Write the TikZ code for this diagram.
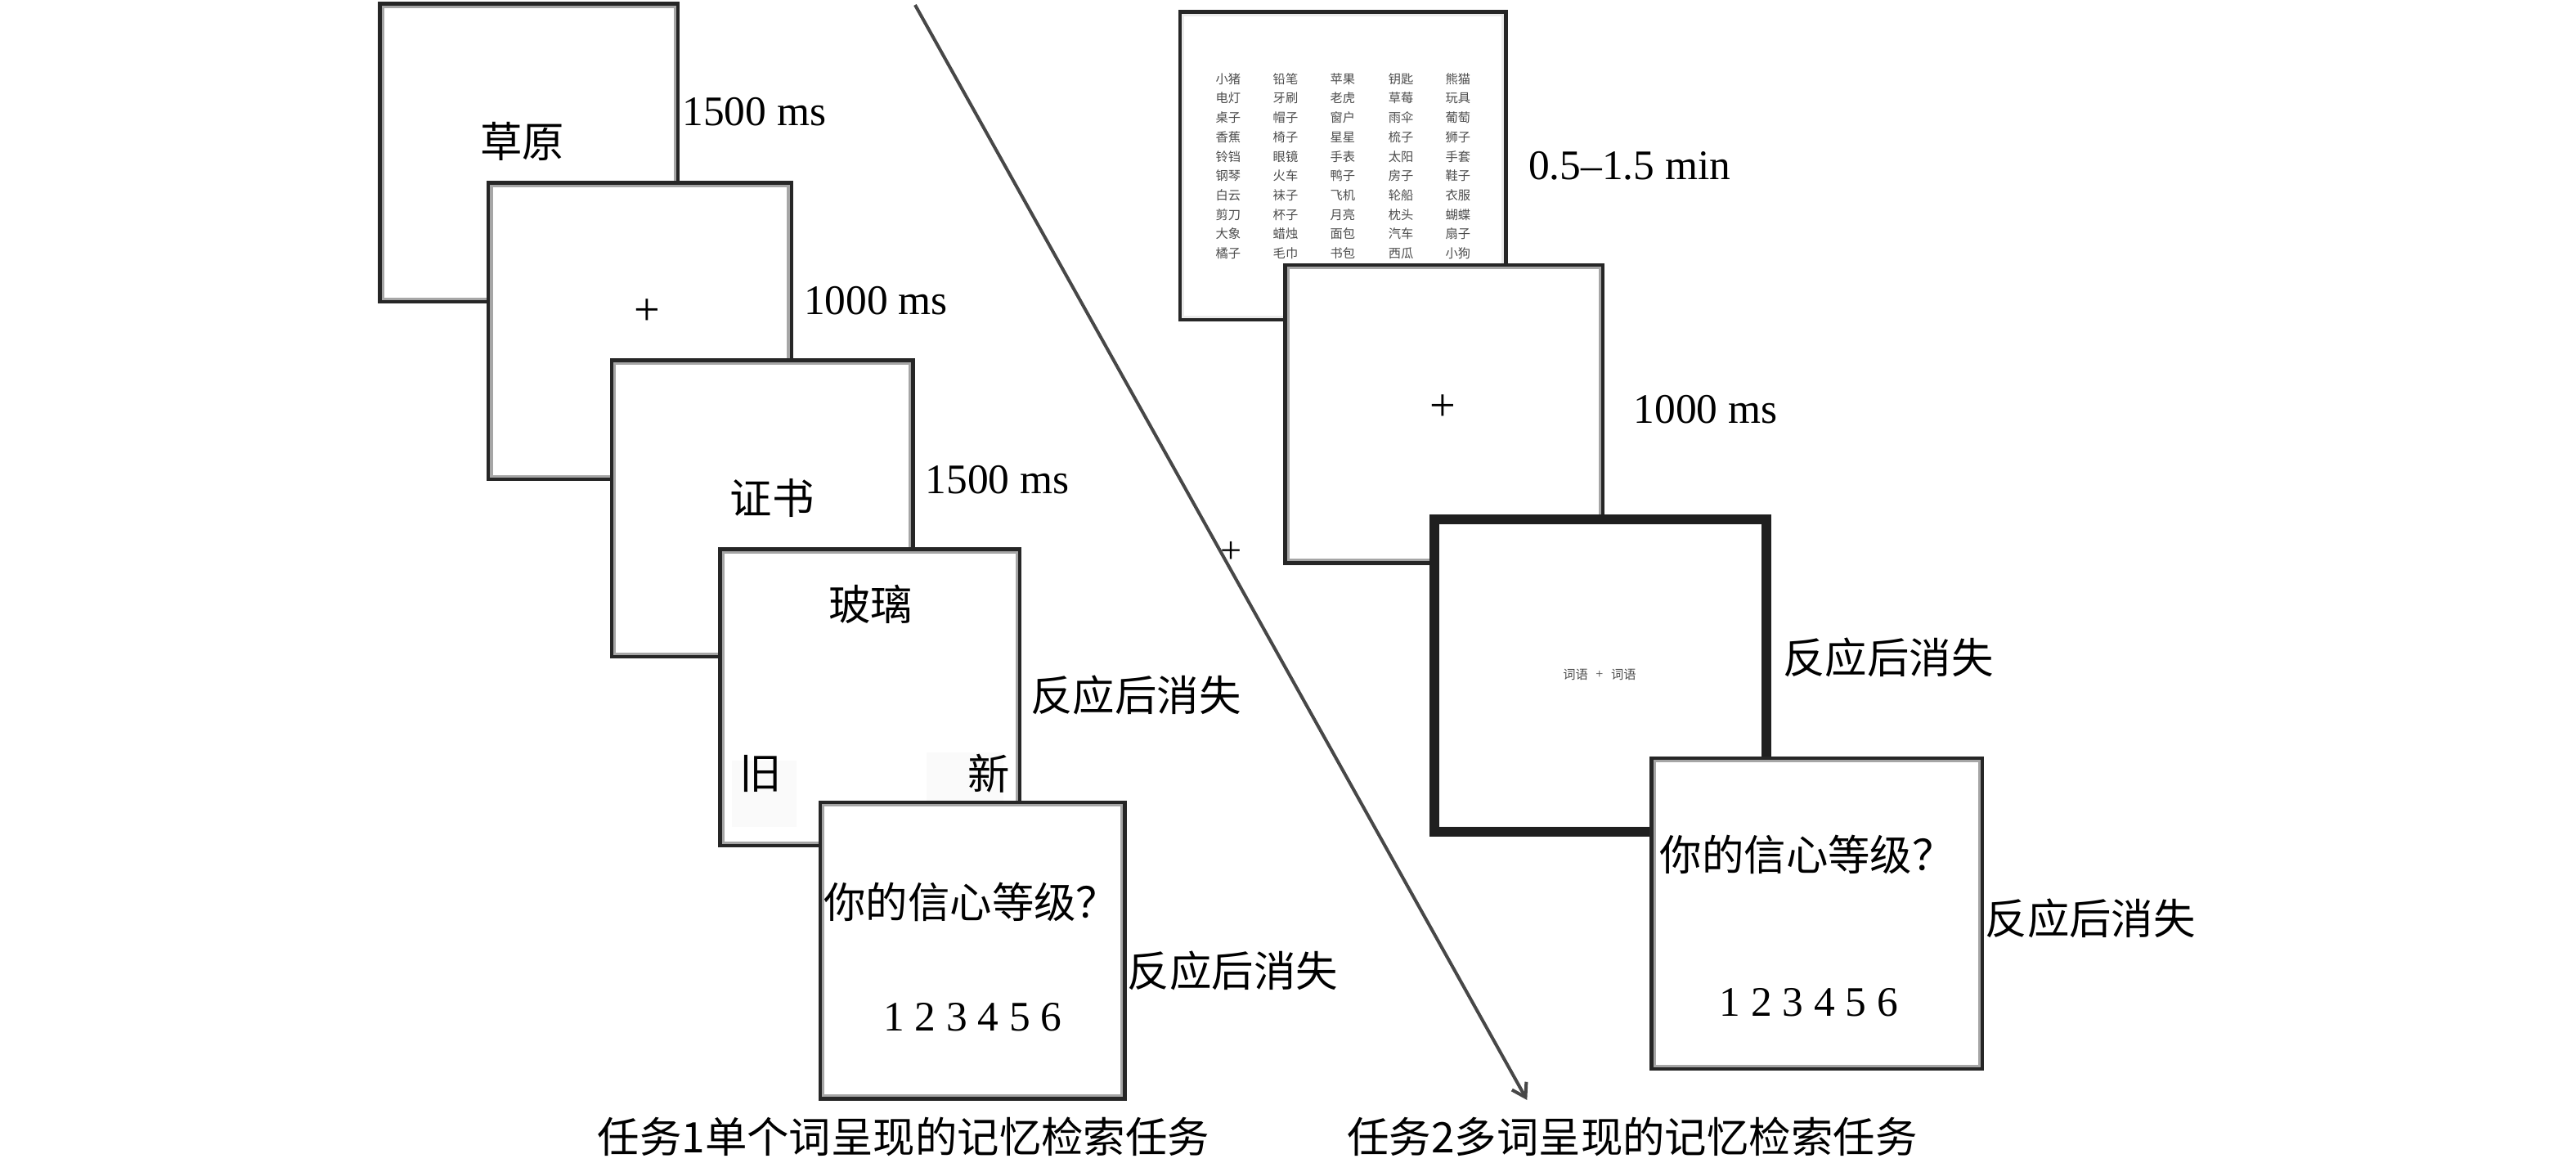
\documentclass[tikz,border=0pt]{standalone}
\usepackage{fontspec}
\setmainfont{Liberation Serif}
\newfontfamily\cjk{Noto Sans CJK SC}
\usetikzlibrary{arrows.meta}
\tikzset{
  stim/.style={draw=black!85, line width=1.8pt, fill=white, rectangle, inner sep=0pt},
  thickstim/.style={draw=black!88, line width=3pt, fill=white, rectangle, inner sep=0pt},
  band/.style={draw=black!35, line width=0.8pt},
  lightband/.style={draw=black!8, line width=0.8pt},
  lab/.style={anchor=west, inner sep=0pt, font=\fontsize{12.8}{14}\selectfont},
  cn/.style={inner sep=0pt, font=\fontsize{12.8}{14}\selectfont\cjk},
  cnlab/.style={anchor=west, inner sep=0pt, font=\fontsize{12.8}{14}\selectfont\cjk},
  tinyword/.style={inner sep=0pt, text=black!70, font=\fontsize{3.8}{4}\selectfont\cjk},
  faintbg/.style={fill=black!2, draw=none},
  timeline/.style={draw=black!72, line width=1pt, -{Straight Barb[length=4pt,width=5pt]}}
}
\newcommand\innerband[2]{\draw[#2] ([shift={(1.5pt,-1.5pt)}]#1.north west) rectangle ([shift={(-1.5pt,1.5pt)}]#1.south east);}
\begin{document}
\begin{tikzpicture}[x=0.5pt,y=-0.5pt]
\useasboundingbox (0,0) rectangle (1568,713);

% ---------- Task 1 ----------
\node[stim, minimum width=90pt, minimum height=90pt] (b1) at (322,93) {};
\innerband{b1}{band}
\node[cn] (w1) at (318,86) {草原};

\node[stim, minimum width=91.5pt, minimum height=89.5pt] (b2) at (389.5,201.5) {};
\innerband{b2}{band}
\node[inner sep=0pt, font=\fontsize{14}{15}\selectfont] (fix1) at (394,190) {+};

\node[stim, minimum width=91pt, minimum height=89.5pt] (b3) at (464,309.5) {};
\innerband{b3}{band}
\node[cn] (w2) at (470,303) {证书};

\node[stim, minimum width=90.5pt, minimum height=89.5pt] (b4) at (529.5,424.5) {};
\innerband{b4}{band}
\fill[faintbg] (445.5,463) rectangle (485,503);
\fill[faintbg] (564,458) rectangle (611,488);
\node[cn] (w3) at (530,368) {玻璃};
\node[cn] (old) at (463,471) {旧};
\node[cn] (new) at (602,471) {新};

\node[stim, minimum width=92pt, minimum height=89.5pt] (b5) at (592,578.5) {};
\innerband{b5}{band}
\node[cn] (q1) at (591,549) {你的信心等级？};
\node[inner sep=0pt, font=\fontsize{12.8}{14}\selectfont] (s1) at (592,619) {1 2 3 4 5 6};

\node[lab] (t1) at (415,68) {1500 ms};
\node[lab] (t2) at (489,183) {1000 ms};
\node[lab] (t3) at (563,292) {1500 ms};
\node[cnlab] (t4) at (627,423) {反应后消失};
\node[cnlab] (t5) at (686,591) {反应后消失};

% ---------- Task 2 ----------
\node[stim, minimum width=98.5pt, minimum height=93pt] (r1) at (817.5,101) {};
\innerband{r1}{lightband}
\foreach \col/\words in {747.6/{小猪,电灯,桌子,香蕉,铃铛,钢琴,白云,剪刀,大象,橘子},
                        782.5/{铅笔,牙刷,帽子,椅子,眼镜,火车,袜子,杯子,蜡烛,毛巾},
                        817.3/{苹果,老虎,窗户,星星,手表,鸭子,飞机,月亮,面包,书包},
                        852.7/{钥匙,草莓,雨伞,梳子,太阳,房子,轮船,枕头,汽车,西瓜},
                        887.5/{熊猫,玩具,葡萄,狮子,手套,鞋子,衣服,蝴蝶,扇子,小狗}}{
  \foreach \w [count=\i from 0] in \words {
    \node[tinyword] at (\col, 48+11.8*\i) {\w};
  }
}

\node[stim, minimum width=96pt, minimum height=90pt] (r2) at (879,252) {};
\innerband{r2}{band}
\node[inner sep=0pt, font=\fontsize{14}{15}\selectfont] (fix2) at (878,248) {+};

\node[thickstim, minimum width=101pt, minimum height=95pt] (r3) at (974,411) {};
\node[tinyword] (pa) at (959,410.6) {词语};
\node[inner sep=0pt, text=black!70, font=\fontsize{4}{5}\selectfont] (pp) at (973.6,410.6) {+};
\node[tinyword] (pb) at (988.3,410.6) {词语};

\node[stim, minimum width=100pt, minimum height=94pt] (r4) at (1106,556) {};
\innerband{r4}{band}
\node[cn] (q2) at (1100,520) {你的信心等级？};
\node[inner sep=0pt, font=\fontsize{12.8}{14}\selectfont] (s2) at (1101,610) {1 2 3 4 5 6};

\node[lab] (u1) at (930,101) {0.5–1.5 min};
\node[lab] (u2) at (994,249) {1000 ms};
\node[cnlab] (u3) at (1085,400) {反应后消失};
\node[cnlab] (u4) at (1208,559) {反应后消失};

% ---------- timeline arrow ----------
\coordinate (a0) at (557,3);
\coordinate (a1) at (929.5,669.5);
\draw[timeline] (a0) -- (a1);
\node[inner sep=0pt, font=\fontsize{11.5}{12}\selectfont] (stray) at (749.6,336) {+};

% ---------- captions ----------
\node[cn] (c1) at (550,692) {任务1单个词呈现的记忆检索任务};
\node[cn] (c2) at (993.5,692) {任务2多词呈现的记忆检索任务};
\end{tikzpicture}
\end{document}
